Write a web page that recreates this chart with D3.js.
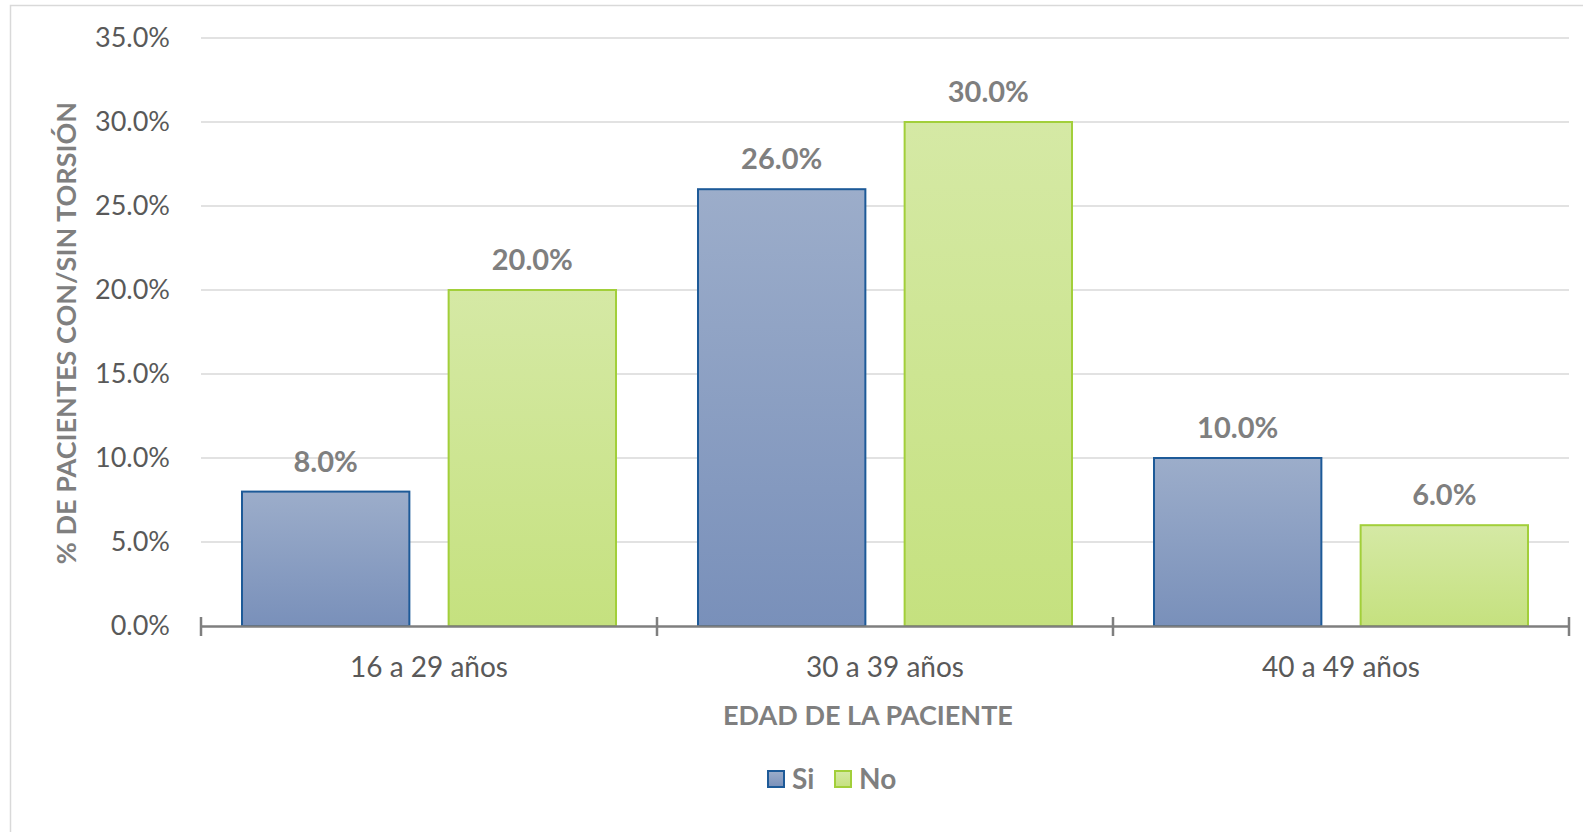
<!DOCTYPE html>
<html>
<head>
<meta charset="utf-8">
<script src="https://cdn.jsdelivr.net/npm/d3@7"></script>
<style>
  body { margin: 0; background: #fff; }
  svg { display: block; font-family: Lato, "Open Sans", sans-serif; }
  svg text { font-family: Lato, "Open Sans", sans-serif; }
</style>
</head>
<body>
<div id="chart"></div>
<script>
// Chart data
var categories = ["16 a 29 años", "30 a 39 años", "40 a 49 años"];
var seriesNames = ["Si", "No"];
var siValues = [8.0, 26.0, 10.0];
var noValues = [20.0, 30.0, 6.0];
var yTicks = [0, 5, 10, 15, 20, 25, 30, 35];

var svgWidth = 1583;
var svgHeight = 832;

var margin = { top: 38, right: 14, bottom: 206, left: 201 };
var chartWidth = svgWidth - margin.left - margin.right;
var chartHeight = svgHeight - margin.top - margin.bottom;

var svg = d3.select("#chart")
  .append("svg")
  .attr("width", svgWidth)
  .attr("height", svgHeight);

// Gradients for bars
var defs = svg.append("defs");
var gradSi = defs.append("linearGradient").attr("id", "gradSi")
  .attr("x1", 0).attr("y1", 0).attr("x2", 0).attr("y2", 1);
gradSi.append("stop").attr("offset", "0%").attr("stop-color", "#9cadca");
gradSi.append("stop").attr("offset", "100%").attr("stop-color", "#7990ba");
var gradNo = defs.append("linearGradient").attr("id", "gradNo")
  .attr("x1", 0).attr("y1", 0).attr("x2", 0).attr("y2", 1);
gradNo.append("stop").attr("offset", "0%").attr("stop-color", "#d5e9a5");
gradNo.append("stop").attr("offset", "100%").attr("stop-color", "#c5e17f");

var fills = { Si: "url(#gradSi)", No: "url(#gradNo)" };
var strokes = { Si: "#1d5a98", No: "#a2cf3a" };

// Outer border
svg.append("rect")
  .attr("x", 10.5).attr("y", 5.5)
  .attr("width", svgWidth).attr("height", svgHeight)
  .attr("fill", "none")
  .attr("stroke", "#d9d9d9")
  .attr("stroke-width", 1.5);

var chartGroup = svg.append("g")
  .attr("transform", `translate(${margin.left}, ${margin.top})`);

var yScale = d3.scaleLinear()
  .domain([0, 35])
  .range([chartHeight, 0]);

var x0 = d3.scaleBand()
  .domain(categories)
  .range([0, chartWidth]);

var x1 = d3.scaleBand()
  .domain(seriesNames)
  .range([41, x0.bandwidth() - 41])
  .paddingInner(0.19);

// Gridlines
chartGroup.append("g")
  .selectAll("line")
  .data(yTicks.filter(d => d > 0))
  .enter()
  .append("line")
  .attr("x1", 0).attr("x2", chartWidth)
  .attr("y1", d => yScale(d)).attr("y2", d => yScale(d))
  .attr("stroke", "#d9d9d9")
  .attr("stroke-width", 1.5);

// Left axis labels
var leftAxis = d3.axisLeft(yScale)
  .tickValues(yTicks)
  .tickFormat(d => d.toFixed(1) + "%")
  .tickSize(0)
  .tickPadding(31);

var yAxisG = chartGroup.append("g").call(leftAxis);
yAxisG.attr("font-family", null);
yAxisG.select(".domain").remove();
yAxisG.selectAll("text")
  .attr("fill", "#595959")
  .style("font-size", "27px");

// Bars
var rows = categories.map(function(c, i) {
  return { category: c, values: [
    { name: "Si", value: siValues[i] },
    { name: "No", value: noValues[i] }
  ] };
});

var groups = chartGroup.selectAll(".cat")
  .data(rows)
  .enter()
  .append("g")
  .attr("transform", d => `translate(${x0(d.category)}, 0)`);

groups.selectAll("rect")
  .data(d => d.values)
  .enter()
  .append("rect")
  .attr("x", d => x1(d.name))
  .attr("y", d => yScale(d.value))
  .attr("width", x1.bandwidth())
  .attr("height", d => chartHeight - yScale(d.value))
  .attr("fill", d => fills[d.name])
  .attr("stroke", d => strokes[d.name])
  .attr("stroke-width", 2);

// Data labels
groups.selectAll(".lbl")
  .data(d => d.values)
  .enter()
  .append("text")
  .attr("x", d => x1(d.name) + x1.bandwidth() / 2)
  .attr("y", d => yScale(d.value) - 20)
  .attr("text-anchor", "middle")
  .attr("fill", "#7f7f7f")
  .style("font-size", "29px")
  .style("font-weight", "bold")
  .text(d => d.value.toFixed(1) + "%");

// Bottom axis
var bottomAxis = d3.axisBottom(x0).tickSize(0).tickPadding(31);
var xAxisG = chartGroup.append("g")
  .attr("transform", "translate(0, " + chartHeight + ")")
  .call(bottomAxis);
xAxisG.attr("font-family", null);
xAxisG.select(".domain")
  .attr("stroke", "#7f7f7f")
  .attr("stroke-width", 2.5);
xAxisG.selectAll("text")
  .attr("fill", "#595959")
  .style("font-size", "28px");

// Category boundary ticks
chartGroup.append("g")
  .selectAll("line")
  .data(d3.range(categories.length + 1))
  .enter()
  .append("line")
  .attr("x1", d => d * x0.bandwidth()).attr("x2", d => d * x0.bandwidth())
  .attr("y1", chartHeight - 9).attr("y2", chartHeight + 10)
  .attr("stroke", "#7f7f7f")
  .attr("stroke-width", 2.5);

// Axis titles
svg.append("text")
  .attr("x", 868)
  .attr("y", 725)
  .attr("text-anchor", "middle")
  .attr("fill", "#7f7f7f")
  .style("font-size", "27px")
  .style("font-weight", "bold")
  .text("EDAD DE LA PACIENTE");

svg.append("text")
  .attr("transform", "translate(76, 333) rotate(-90)")
  .attr("text-anchor", "middle")
  .attr("fill", "#7f7f7f")
  .style("font-size", "27px")
  .style("font-weight", "bold")
  .text("% DE PACIENTES CON/SIN TORSIÓN");

// Legend
var legend = svg.append("g").attr("transform", "translate(768, 779)");
var legendItems = legend.selectAll("g")
  .data(seriesNames)
  .enter()
  .append("g")
  .attr("transform", (d, i) => `translate(${i * 67}, 0)`);
legendItems.append("rect")
  .attr("x", 0).attr("y", -8)
  .attr("width", 16).attr("height", 16)
  .attr("fill", d => fills[d])
  .attr("stroke", d => strokes[d])
  .attr("stroke-width", 2);
legendItems.append("text")
  .attr("x", 24).attr("y", 10)
  .attr("fill", "#7f7f7f")
  .style("font-size", "28px")
  .style("font-weight", "bold")
  .text(d => d);
</script>
</body>
</html>
